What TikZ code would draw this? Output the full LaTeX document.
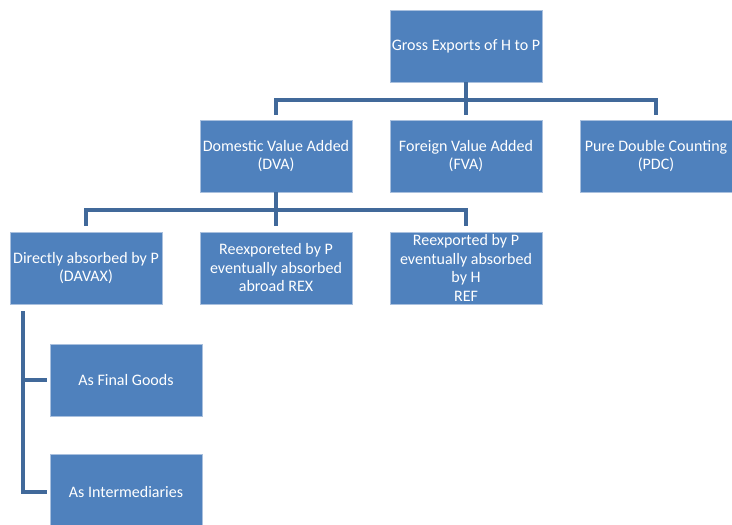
\documentclass[tikz,border=0pt]{standalone}
\usepackage{fontspec}
\setmainfont{Carlito}
\begin{document}
\begin{tikzpicture}[x=1pt,y=-1pt,
  box/.style={draw=boxedge,line width=0.8pt,fill=boxfill,text=white,align=center,
    minimum width=152pt,minimum height=72pt,inner sep=0pt,
    font=\fontsize{16}{18.5}\selectfont},
  conn/.style={draw=connline,line width=4pt,line cap=butt,line join=miter}]
\definecolor{boxfill}{HTML}{4F81BD}
\definecolor{boxedge}{HTML}{A9C0DE}
\definecolor{connline}{HTML}{41699A}
\useasboundingbox (0,0) rectangle (732,525);
\node[box] (ge) at (466,46) {Gross Exports of H to P};
\node[box] (dva) at (276,156) {Domestic Value Added\\(DVA)};
\node[box] (fva) at (466,156) {Foreign Value Added\\(FVA)};
\node[box] (pdc) at (656,156) {Pure Double Counting\\(PDC)};
\node[box] (davax) at (86,268) {Directly absorbed by P\\(DAVAX)};
\node[box] (rex) at (276,268) {Reexporeted by P\\eventually absorbed\\abroad REX};
\node[box] (ref) at (466,268) {Reexported by P\\eventually absorbed\\by H\\REF};
\node[box] (fg) at (126,380) {As Final Goods};
\node[box,minimum height=76pt] (inter) at (126,492) {As Intermediaries};
\coordinate (busa) at (0,100);
\coordinate (busb) at (0,210);
% top level
\draw[conn] (ge.south) -- ([yshift=-33pt]ge.south);
\draw[conn] ([yshift=5pt]dva.north) |- (busa -| pdc.north) -- ([yshift=5pt]pdc.north);
% second level
\draw[conn] (dva.south) -- ([yshift=-34pt]dva.south);
\draw[conn] ([yshift=6pt]davax.north) |- (busb -| ref.north) -- ([yshift=6pt]ref.north);
% DAVAX branches
\draw[conn] ([xshift=13pt,yshift=-7pt]davax.south west) |- ([xshift=-3pt]inter.west);
\draw[conn] ([xshift=13pt]davax.south west |- fg.west) -- ([xshift=-3pt]fg.west);
\end{tikzpicture}
\end{document}
